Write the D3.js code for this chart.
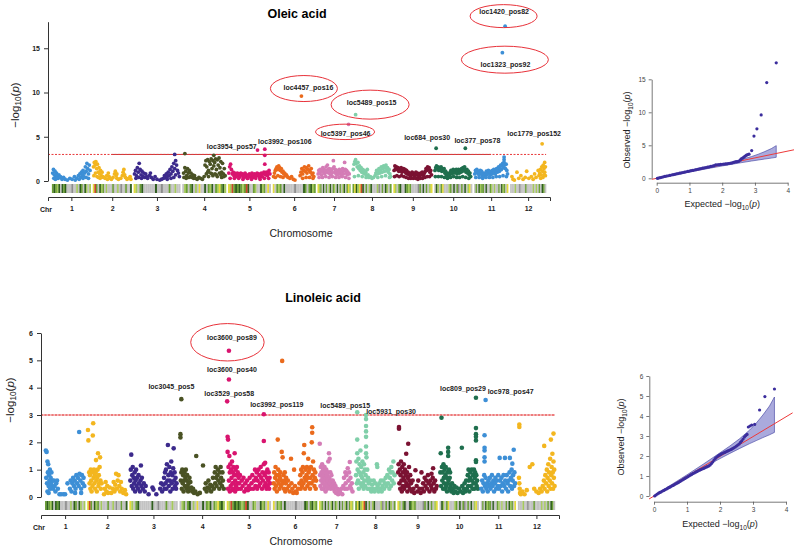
<!DOCTYPE html>
<html>
<head>
<meta charset="utf-8">
<script src="https://cdn.jsdelivr.net/npm/d3@7"></script>
<style>
body { margin: 0; background: #fff; }
svg { display: block; font-family: "Liberation Sans", Arial, sans-serif; }
</style>
</head>
<body>
<div id="chart"></div>
<script>
// chromosomes
var chrNames = ["1", "2", "3", "4", "5", "6", "7", "8", "9", "10", "11", "12"];
var chrLen = [40, 40, 48, 45, 44, 44, 34, 40, 40, 39, 35, 37];
var chrColors = ["#3d8fd6", "#f3b61f", "#3c2a8c", "#4a5224", "#d9146f", "#ea6a1c",
	"#d47cb6", "#80cfa9", "#7b1232", "#1f6f4e", "#3d8fd6", "#f3b61f"];

// marker density strip, one code per bin (0 grey .. 5 red)
var stripCodes = [
	"232130323000600103203101", "452031201000200106002003", "410230000003006000200100",
	"012023010400302130214231", "415232321253002100312040", "402120300000600003202312",
	"412030201302103020130241", "243145302013000160203102", "410230032120000620302014",
	"031024000120302602030140", "020312203002101002031204", "000100600020000101020320"
];
var stripColors = ["#c3c3c3", "#a5c95c", "#6b9e36", "#2f5e1e", "#e4da3d", "#c9472b", "#8c8c8c"];

// Oleic acid: [position in chromosome (%), -log10(p)]
var oleicPts = [
	[[2,0.9],[4,1.3],[6,0.7],[8,1.1],[10,0.5],[12,0.9],[14,0.6],[16,0.3],[5,0.3],[9,0.2],[13,0.3],[18,0.7],[20,0.4],[22,0.5],[26,0.2],[30,0.4],[34,0.2],[40,0.1],[46,0.3],[52,0.2],[58,0.5],[64,0.3],[68,0.6],[72,0.8],[74,0.4],[76,1.0],[78,0.7],[80,1.2],[82,0.5],[84,0.9],[86,1.6],[88,1.1],[90,2.0],[92,1.4],[94,0.8],[96,1.8],[98,1.2],[70,0.2],[80,0.3],[88,0.4],[94,0.3],[60,0.1]],
	[[2,1.6],[4,2.1],[6,1.8],[8,2.2],[10,1.4],[12,1.9],[14,1.0],[16,1.5],[18,0.8],[20,1.2],[22,0.6],[24,1.0],[26,0.5],[3,0.6],[7,0.9],[11,0.5],[15,0.4],[19,0.3],[28,0.4],[32,0.3],[36,0.6],[40,0.9],[42,0.5],[44,0.3],[48,0.2],[52,0.4],[56,0.8],[58,1.1],[60,0.6],[62,0.3],[66,0.2],[72,0.3],[76,0.6],[78,1.0],[80,1.3],[82,0.7],[84,0.4],[88,0.2],[92,0.3],[96,0.5],[98,0.2],[38,0.2],[62,0.8]],
	[[2,0.8],[4,1.2],[6,0.6],[8,1.5],[10,1.0],[12,2.0],[14,1.3],[16,0.7],[18,1.1],[20,0.5],[22,0.9],[24,0.4],[5,0.3],[11,0.4],[17,0.3],[26,0.8],[28,0.5],[30,0.3],[34,0.6],[36,0.9],[38,0.4],[42,0.2],[46,0.5],[50,0.2],[56,0.1],[60,0.2],[64,0.3],[66,0.6],[68,0.4],[70,0.8],[72,0.5],[74,1.0],[76,0.6],[78,1.3],[80,0.8],[82,1.6],[84,1.1],[86,2.0],[88,1.4],[88,3.0],[90,2.3],[90,0.7],[92,1.8],[94,1.2],[96,0.9],[98,0.5],[72,0.2],[80,0.3],[86,0.4]],
	[[3,0.9],[6,3.1],[6,1.5],[8,1.1],[10,0.6],[12,1.4],[14,0.9],[16,1.2],[18,0.5],[20,0.9],[22,0.4],[24,0.7],[26,0.3],[4,0.4],[9,0.3],[15,0.4],[28,0.6],[30,0.3],[34,0.2],[38,0.4],[42,0.3],[46,0.2],[50,0.5],[52,1.8],[54,2.3],[56,1.6],[58,2.4],[60,1.2],[62,2.2],[64,1.9],[66,2.5],[68,1.4],[70,2.3],[72,2.9],[72,1.7],[74,2.1],[76,2.5],[78,1.3],[80,2.4],[82,1.8],[84,2.6],[86,1.5],[88,2.2],[90,1.0],[92,2.0],[94,0.8],[96,1.4],[98,0.6],[55,0.8],[60,0.5],[65,0.9],[70,0.6],[75,0.8],[80,0.5],[85,0.9],[90,0.4],[95,0.5],[58,1.0],[68,0.8],[78,0.7],[88,0.7]],
	[[2,0.9],[4,1.6],[6,1.9],[8,1.3],[10,0.8],[12,1.0],[14,0.6],[16,0.9],[18,0.5],[20,0.8],[22,0.9],[24,0.6],[26,0.8],[28,0.5],[30,0.9],[32,0.7],[34,0.8],[36,0.4],[38,0.7],[40,0.9],[42,0.5],[44,0.7],[46,0.3],[48,0.6],[50,0.8],[52,0.5],[54,0.7],[56,0.9],[58,0.4],[60,0.6],[62,0.8],[64,0.5],[66,0.7],[68,0.9],[69,3.5],[70,0.6],[72,0.8],[74,0.4],[76,0.7],[78,0.9],[80,0.5],[82,0.8],[84,1.0],[86,3.6],[86,2.9],[86,1.9],[88,0.7],[90,1.0],[92,0.6],[94,0.9],[96,1.2],[98,0.8],[5,0.3],[15,0.3],[25,0.3],[35,0.2],[45,0.3],[55,0.2],[65,0.3],[75,0.2],[85,0.3],[95,0.3]],
	[[2,0.5],[4,0.9],[6,1.2],[8,1.4],[10,1.6],[12,1.3],[14,1.7],[16,1.5],[18,1.2],[20,1.4],[22,1.0],[24,1.1],[26,0.8],[28,0.9],[30,0.6],[32,0.7],[34,0.5],[36,0.4],[40,0.3],[44,0.5],[48,0.2],[52,0.1],[6,0.4],[12,0.6],[18,0.5],[24,0.4],[64,0.6],[66,1.0],[67,9.6],[68,1.4],[70,0.8],[72,1.2],[74,1.6],[76,1.1],[78,1.5],[80,0.9],[82,1.3],[84,1.7],[86,1.2],[88,1.0],[90,1.4],[92,0.7],[94,0.9],[96,0.5],[70,0.3],[78,0.4],[86,0.4],[94,0.3]],
	[[2,0.8],[4,1.2],[6,0.9],[8,1.3],[10,1.1],[12,0.7],[14,1.2],[16,1.5],[18,1.0],[20,1.3],[22,0.8],[24,1.2],[26,1.6],[28,1.0],[30,1.8],[32,1.3],[34,0.9],[36,1.4],[38,1.1],[40,0.7],[42,1.2],[44,0.9],[46,1.4],[48,2.3],[50,1.6],[52,1.0],[54,1.3],[56,0.8],[58,1.1],[60,0.7],[62,1.2],[64,0.9],[66,1.3],[68,0.8],[70,1.1],[72,0.6],[74,1.0],[76,1.4],[78,0.8],[80,1.2],[82,2.1],[84,1.3],[86,0.9],[88,1.2],[90,0.7],[92,1.0],[94,6.4],[96,0.8],[5,0.4],[15,0.4],[25,0.5],[35,0.4],[45,0.5],[55,0.4],[65,0.4],[75,0.5],[85,0.4],[95,0.3]],
	[[2,1.3],[4,1.9],[6,2.2],[8,7.5],[8,2.4],[10,2.0],[12,1.6],[14,2.1],[16,1.4],[18,1.7],[20,1.2],[22,1.5],[24,1.0],[26,1.3],[28,0.9],[30,1.2],[32,0.8],[34,1.0],[36,0.6],[38,1.3],[40,0.7],[42,0.4],[46,0.5],[50,0.3],[54,0.4],[58,0.6],[60,0.9],[62,1.2],[64,0.8],[66,1.1],[68,1.4],[70,0.9],[72,1.2],[74,1.6],[76,1.0],[78,1.4],[80,1.7],[82,1.1],[84,1.5],[86,1.8],[88,1.2],[90,1.5],[92,1.0],[94,1.3],[96,0.8],[98,0.5],[5,0.5],[15,0.6],[25,0.5],[35,0.4],[65,0.4],[75,0.5],[85,0.6],[95,0.4]],
	[[2,1.2],[4,1.7],[6,1.4],[8,1.6],[10,1.3],[12,1.5],[14,1.1],[16,1.4],[18,1.2],[20,1.5],[22,1.0],[24,1.3],[26,1.4],[28,1.1],[30,1.3],[32,0.9],[34,1.2],[36,0.8],[38,1.0],[40,0.7],[42,0.9],[44,0.6],[46,0.8],[48,1.0],[50,0.7],[52,0.9],[54,0.6],[56,0.8],[58,1.0],[60,0.7],[62,0.9],[64,0.5],[66,0.8],[68,0.6],[70,0.9],[72,0.7],[74,1.0],[76,0.8],[78,0.6],[80,0.9],[82,1.1],[84,1.4],[86,1.2],[88,1.6],[90,1.3],[92,1.5],[94,1.0],[96,1.2],[98,0.7],[3,0.5],[9,0.6],[15,0.5],[21,0.6],[27,0.5],[33,0.4],[39,0.3],[45,0.3],[51,0.3],[57,0.3],[63,0.2],[69,0.3],[75,0.3],[81,0.4],[87,0.5],[93,0.5]],
	[[2,1.2],[4,1.5],[5,3.7],[6,1.7],[8,1.4],[10,1.6],[12,1.2],[14,1.5],[16,1.3],[18,1.6],[20,1.1],[22,1.4],[24,1.2],[26,1.4],[28,0.9],[30,1.1],[32,0.7],[34,0.9],[36,0.5],[38,0.8],[40,0.6],[42,1.0],[44,1.2],[46,0.8],[48,1.1],[50,1.3],[52,0.9],[54,1.2],[56,1.0],[58,1.3],[60,0.8],[62,1.1],[64,1.3],[66,0.9],[68,1.2],[70,1.0],[72,1.4],[74,1.1],[76,1.5],[78,1.2],[80,1.6],[82,3.7],[82,1.3],[84,1.0],[86,1.3],[88,0.9],[90,1.1],[92,0.7],[94,0.9],[96,0.5],[3,0.5],[11,0.5],[19,0.5],[27,0.4],[35,0.3],[43,0.4],[51,0.5],[59,0.4],[67,0.4],[75,0.5],[83,0.4],[91,0.3]],
	[[2,0.8],[4,1.2],[6,1.0],[8,1.3],[10,0.9],[12,1.1],[14,0.7],[16,1.0],[18,1.2],[20,0.8],[22,1.1],[24,0.6],[26,0.9],[28,0.5],[30,0.8],[32,0.6],[34,0.9],[36,1.1],[38,0.7],[40,1.0],[42,1.2],[44,0.8],[46,1.1],[48,0.7],[50,1.0],[52,0.8],[54,1.2],[56,0.9],[58,1.3],[60,1.0],[62,0.8],[64,1.2],[66,1.4],[68,1.0],[70,1.3],[72,1.6],[74,1.1],[76,1.4],[78,1.8],[80,1.3],[82,1.7],[83,14.5],[84,2.0],[86,1.5],[88,2.1],[88,2.7],[88,2.4],[90,1.8],[91,17.5],[92,1.4],[94,1.9],[96,1.2],[98,0.8],[5,0.4],[15,0.4],[25,0.3],[35,0.4],[45,0.4],[55,0.4],[65,0.5],[75,0.5],[85,0.6],[95,0.5]],
	[[5,0.5],[8,0.2],[12,0.1],[19,1.0],[24,0.3],[30,0.6],[36,0.2],[42,0.4],[46,1.1],[52,0.3],[59,0.5],[64,0.2],[68,0.8],[72,0.4],[78,1.2],[80,0.6],[82,0.9],[84,1.3],[86,0.7],[88,1.6],[89,4.2],[90,1.1],[92,1.8],[94,1.4],[96,2.1],[96,1.0],[98,1.6],[98,0.6],[85,0.3],[91,0.4],[94,0.7]]
];

// Linoleic acid: [position in chromosome (%), -log10(p)]
var linoleicPts = [
	[[2,1.7],[4,1.65],[3,0.7],[5,0.5],[6,1.3],[7,0.9],[8,1.2],[9,0.4],[10,0.8],[11,0.6],[12,1.0],[13,0.3],[14,0.7],[15,0.5],[16,0.9],[17,0.4],[18,0.6],[20,0.3],[22,0.6],[24,0.4],[26,0.2],[28,0.5],[30,0.6],[32,0.3],[36,0.1],[40,0.1],[46,0.1],[50,0.1],[56,0.5],[62,0.3],[64,0.6],[66,0.2],[68,0.5],[70,0.7],[72,0.4],[74,0.6],[76,0.3],[78,0.8],[80,0.5],[82,0.7],[84,0.4],[85,2.38],[86,0.85],[88,0.6],[90,0.3],[92,0.8],[94,0.5],[96,0.7],[98,0.4],[6,0.2],[9,0.15],[75,0.15],[90,0.15],[12,0.35]],
	[[2,2.45],[3,2.07],[5,0.9],[6,0.5],[7,0.8],[8,0.3],[9,1.0],[10,0.6],[11,0.2],[12,0.9],[13,0.4],[14,2.25],[15,2.7],[16,0.7],[17,1.0],[18,0.5],[19,0.8],[20,0.3],[21,0.9],[22,1.35],[23,0.6],[24,0.2],[25,0.7],[26,1.0],[27,1.6],[28,0.4],[29,0.8],[30,0.5],[31,1.1],[32,1.45],[33,0.6],[34,0.3],[36,0.5],[42,0.1],[44,0.3],[46,0.55],[48,0.2],[50,0.4],[52,0.15],[56,0.35],[60,0.15],[64,0.3],[66,0.55],[68,0.2],[70,0.45],[72,0.85],[74,0.3],[76,0.6],[78,0.8],[80,0.4],[82,0.2],[84,0.55],[86,0.3],[90,0.15],[94,0.25],[97,0.1]],
	[[2,0.6],[3,1.0],[4,1.55],[5,0.4],[6,0.8],[7,1.1],[8,0.3],[9,0.7],[10,0.5],[11,0.9],[12,0.2],[13,0.6],[14,1.0],[15,0.4],[16,0.7],[18,0.3],[19,0.8],[20,0.5],[22,0.2],[23,0.6],[24,1.15],[25,0.4],[26,0.7],[28,0.3],[30,0.5],[32,0.2],[34,0.4],[40,0.1],[48,0.35],[50,0.27],[56,0.1],[64,0.3],[66,0.5],[68,0.2],[70,0.45],[72,0.7],[73,0.3],[74,0.9],[75,0.5],[76,1.0],[77,0.3],[78,1.2],[79,0.6],[80,1.9],[81,0.8],[82,0.4],[83,1.1],[84,0.6],[85,0.2],[86,0.9],[87,1.3],[88,0.5],[89,0.8],[90,0.3],[91,1.05],[92,1.78],[93,0.6],[94,0.9],[95,0.4],[96,0.7],[97,0.3],[98,0.5]],
	[[2,2.3],[2,2.18],[4,3.58],[3,0.6],[4,0.9],[5,0.3],[6,1.0],[7,0.5],[8,0.8],[9,0.2],[10,0.6],[11,0.9],[12,0.4],[13,0.7],[14,1.0],[15,0.3],[16,0.6],[17,0.8],[18,0.4],[19,0.2],[20,0.5],[22,0.7],[23,0.3],[24,0.55],[26,0.35],[28,0.2],[30,0.3],[32,0.15],[35,0.2],[37,1.5],[40,0.1],[45,0.15],[52,1.15],[56,0.3],[58,0.5],[60,0.2],[62,0.35],[64,0.6],[66,0.3],[68,0.45],[70,0.2],[72,0.4],[74,0.7],[76,0.3],[78,0.9],[79,0.5],[80,1.1],[81,0.7],[82,0.4],[84,0.8],[85,1.0],[86,0.6],[88,0.3],[89,0.9],[90,0.5],[91,1.1],[92,0.7],[94,0.4],[95,0.9],[96,0.6],[98,0.3]],
	[[1,3.5],[5,5.35],[5,4.3],[2,2.2],[3,2.1],[2,1.65],[4,1.1],[5,0.6],[6,1.5],[7,0.9],[8,1.2],[9,0.4],[10,1.0],[11,0.7],[12,1.3],[13,0.5],[14,0.9],[15,1.1],[16,0.3],[17,0.8],[18,1.6],[19,0.6],[20,1.0],[21,0.4],[22,0.8],[23,1.1],[24,0.5],[25,0.9],[26,0.3],[27,0.7],[3,0.3],[7,0.2],[11,0.25],[15,0.5],[19,0.2],[23,0.3],[28,0.5],[30,0.8],[32,0.3],[34,0.6],[36,0.4],[38,0.7],[40,0.2],[42,0.5],[44,0.3],[46,0.6],[48,0.25],[50,0.4],[52,0.7],[54,0.3],[56,0.5],[58,0.8],[60,0.3],[62,0.6],[64,1.0],[65,0.4],[66,0.7],[68,0.9],[69,0.3],[70,0.6],[72,1.0],[73,0.4],[74,0.8],[76,0.5],[77,1.1],[78,0.7],[80,0.3],[81,0.9],[82,0.6],[84,3.03],[84,2.05],[84,1.2],[85,0.4],[86,0.8],[87,1.25],[88,0.5],[89,0.9],[90,0.3],[91,0.7],[92,1.0],[93,0.4],[94,0.6],[95,0.9],[96,0.3],[97,0.7],[98,0.5]],
	[[2,0.5],[3,0.9],[4,0.3],[5,0.7],[6,1.1],[7,0.4],[8,0.8],[9,0.2],[10,0.6],[11,2.1],[12,1.0],[13,0.5],[14,0.8],[15,0.3],[16,0.7],[17,0.9],[18,0.4],[19,0.6],[20,1.65],[21,4.98],[22,1.45],[23,0.5],[24,0.8],[25,0.3],[26,0.6],[27,0.9],[28,0.2],[29,0.5],[30,0.7],[32,0.3],[34,0.6],[36,0.4],[38,0.2],[41,1.4],[42,0.5],[44,0.3],[46,0.15],[48,1.0],[50,0.4],[52,0.2],[54,0.15],[57,0.3],[60,0.5],[62,0.8],[63,0.3],[64,1.0],[65,0.6],[66,0.4],[67,0.9],[68,1.1],[69,0.5],[70,1.6],[71,1.9],[72,0.7],[73,0.3],[74,1.0],[75,0.6],[76,0.8],[77,1.1],[78,0.4],[79,0.7],[80,1.4],[81,0.9],[82,0.5],[83,1.0],[84,0.3],[85,0.7],[86,1.1],[87,0.5],[88,2.0],[89,2.55],[89,2.35],[90,0.8],[91,1.3],[92,0.6],[93,1.0],[94,0.4],[95,0.7],[96,0.9],[97,0.3],[98,0.6]],
	[[2,1.95],[3,0.8],[4,0.4],[5,1.1],[6,0.6],[7,0.9],[8,0.3],[9,1.2],[10,0.7],[11,0.5],[12,1.0],[13,0.3],[14,0.8],[15,0.6],[16,1.1],[17,0.4],[18,0.9],[19,0.2],[20,0.7],[21,1.0],[22,0.5],[23,0.8],[24,0.3],[25,0.6],[26,0.9],[27,1.3],[28,0.4],[29,1.6],[30,0.7],[31,1.4],[32,0.5],[33,0.9],[34,0.3],[35,0.6],[36,0.8],[38,0.4],[40,0.6],[42,0.3],[44,0.5],[46,0.2],[48,0.4],[50,0.15],[53,0.3],[56,0.1],[59,0.25],[62,0.15],[65,0.3],[68,0.1],[71,0.4],[73,0.7],[75,0.3],[77,0.9],[78,0.5],[80,0.8],[82,0.3],[84,1.05],[86,0.6],[88,0.9],[90,1.28],[91,0.4],[92,0.7],[94,0.3],[96,0.5],[98,0.2]],
	[[2,0.8],[3,1.3],[4,0.5],[5,3.1],[5,2.1],[5,1.6],[6,1.0],[7,0.6],[8,1.4],[9,0.3],[10,0.9],[11,1.2],[12,0.5],[13,1.7],[14,0.8],[15,1.1],[16,0.4],[17,0.7],[18,1.3],[19,0.5],[20,0.9],[21,0.3],[22,1.2],[23,0.6],[24,1.0],[25,0.4],[26,0.8],[27,3.0],[27,2.85],[27,2.6],[27,2.4],[27,2.2],[27,1.85],[27,1.6],[28,1.45],[29,0.6],[30,1.0],[31,0.3],[32,0.7],[34,0.5],[36,0.3],[38,0.6],[40,0.2],[42,0.45],[44,0.3],[46,0.6],[48,0.2],[50,0.5],[52,0.3],[54,1.2],[55,1.1],[56,0.4],[58,0.2],[60,0.5],[62,0.3],[64,0.6],[66,0.2],[68,0.4],[70,0.6],[72,0.3],[74,0.5],[76,0.7],[78,0.4],[80,0.8],[82,0.5],[84,1.0],[85,0.3],[86,0.7],[88,0.9],[89,0.4],[90,1.1],[92,0.6],[93,0.9],[95,1.3],[96,0.5],[98,0.8]],
	[[2,0.9],[3,1.2],[4,2.56],[4,2.5],[5,0.5],[6,1.0],[7,0.3],[8,0.8],[9,1.3],[10,0.6],[11,0.2],[12,1.1],[13,0.4],[14,0.9],[15,0.7],[16,1.2],[17,0.3],[18,0.6],[19,1.0],[20,0.4],[21,0.8],[22,1.58],[23,0.5],[24,0.9],[25,0.2],[26,0.7],[27,1.95],[28,0.4],[29,1.1],[30,0.6],[31,0.3],[32,0.8],[34,0.5],[36,0.2],[38,0.6],[40,0.3],[42,0.15],[45,0.98],[48,0.4],[50,0.2],[52,0.6],[55,0.3],[58,0.15],[60,0.9],[62,0.3],[64,0.5],[66,0.2],[68,0.7],[70,0.4],[72,0.6],[74,0.3],[76,0.8],[78,0.5],[80,0.2],[82,0.6],[84,0.4],[85,0.85],[86,0.3],[88,0.7],[89,1.05],[90,0.5],[92,0.2],[94,0.6],[96,0.3],[98,0.4]],
	[[2,0.9],[3,1.6],[4,0.4],[5,2.9],[6,1.1],[7,0.6],[8,0.9],[9,0.3],[10,1.2],[11,0.7],[12,0.5],[13,1.0],[14,0.3],[15,0.8],[16,1.1],[17,0.4],[18,0.7],[19,0.2],[20,0.9],[21,0.5],[22,1.8],[22,1.65],[22,1.5],[23,0.6],[24,1.0],[25,0.3],[26,0.7],[27,0.9],[28,0.4],[30,0.2],[32,0.5],[34,0.3],[36,0.15],[38,0.4],[40,0.2],[43,0.35],[46,0.15],[50,0.3],[54,0.2],[57,1.8],[58,0.4],[60,0.15],[62,0.3],[64,0.5],[66,0.2],[68,0.6],[70,0.3],[72,0.8],[73,0.4],[74,1.0],[75,0.6],[76,0.2],[78,0.7],[79,0.9],[80,0.4],[82,1.0],[83,0.6],[84,0.3],[86,0.8],[87,0.5],[88,1.0],[89,0.3],[90,0.7],[91,0.9],[92,0.5],[93,3.63],[93,2.52],[93,2.3],[93,2.2],[93,2.07],[93,1.34],[93,1.28],[94,0.8],[95,0.4],[96,0.6],[98,0.3]],
	[[2,0.3],[4,0.6],[6,0.2],[8,0.5],[10,0.8],[11,2.26],[11,1.8],[11,1.7],[11,1.45],[11,1.3],[12,0.4],[14,3.55],[14,0.7],[16,0.3],[18,0.5],[20,0.2],[22,0.6],[24,0.4],[26,0.7],[28,0.3],[30,0.5],[32,0.8],[34,0.4],[36,0.6],[38,0.2],[40,0.5],[42,0.7],[44,0.3],[46,0.6],[48,0.4],[50,0.8],[52,0.3],[54,1.43],[55,0.6],[57,0.4],[59,0.7],[61,0.2],[63,0.5],[65,0.8],[67,0.4],[69,1.43],[70,0.6],[72,0.3],[74,0.8],[76,0.5],[78,0.2],[80,0.6],[82,0.9],[83,1.43],[84,0.4],[86,0.7],[88,1.0],[89,0.3],[90,1.22],[91,0.6],[92,0.8],[94,1.73],[95,0.4],[96,0.9],[98,0.5]],
	[[4,2.65],[4,2.56],[3,0.7],[4,0.5],[5,0.3],[6,0.15],[8,0.1],[12,0.2],[18,0.1],[24,0.25],[32,1.1],[39,1.2],[44,0.3],[50,0.2],[56,0.15],[60,0.3],[64,0.2],[67,0.4],[70,0.6],[71,1.87],[72,0.3],[74,0.8],[76,0.5],[78,1.0],[79,0.2],[80,0.7],[82,1.2],[83,0.4],[84,0.9],[86,0.6],[87,1.4],[88,0.3],[89,2.1],[90,0.8],[91,1.1],[92,0.5],[93,1.58],[94,0.9],[95,0.3],[96,2.32],[96,1.3],[97,0.7],[98,1.0],[99,0.4]]
];

// labelled SNPs: [name, chromosome, position (%), -log10(p)]
var oleicHits = [
	["loc1420_pos82", 11, 91, 17.5], ["loc1323_pos92", 11, 83, 14.5], ["loc4457_pos16", 6, 67, 9.6],
	["loc5489_pos15", 8, 8, 7.5], ["loc5397_pos46", 7, 94, 6.4], ["loc684_pos30", 10, 5, 3.7],
	["loc377_pos78", 10, 82, 3.7], ["loc1779_pos152", 12, 89, 4.2], ["loc3954_pos57", 4, 72, 2.9],
	["loc3992_pos106", 5, 86, 3.6]
];
var linoleicHits = [
	["loc3600_pos89", 5, 5, 5.35], ["loc3600_pos40", 5, 5, 4.3], ["loc3529_pos58", 5, 1, 3.5],
	["loc3045_pos5", 4, 4, 3.58], ["loc3992_pos119", 5, 84, 3.03], ["loc5489_pos15", 8, 5, 3.1],
	["loc5931_pos30", 8, 27, 3.0], ["loc809_pos29", 10, 93, 3.63], ["loc978_pos47", 11, 14, 3.55]
];
var threshold = 3;

// QQ plots: [expected, observed]
var qqOleic = [[0.02,0.0],[0.05,0.04],[0.1,0.1],[0.15,0.15],[0.2,0.22],[0.25,0.28],[0.3,0.33],[0.35,0.39],[0.4,0.44],[0.45,0.5],[0.5,0.55],[0.55,0.6],[0.6,0.66],[0.65,0.71],[0.7,0.77],[0.75,0.82],[0.8,0.88],[0.85,0.93],[0.9,0.99],[0.95,1.04],[1.0,1.1],[1.05,1.15],[1.1,1.2],[1.15,1.26],[1.2,1.31],[1.25,1.37],[1.3,1.42],[1.35,1.48],[1.4,1.53],[1.45,1.58],[1.5,1.63],[1.55,1.69],[1.6,1.74],[1.65,1.8],[1.7,1.85],[1.75,1.92],[1.8,2.02],[1.85,2.05],[1.9,2.08],[1.95,2.1],[2.0,2.13],[2.05,2.16],[2.1,2.18],[2.15,2.2],[2.2,2.24],[2.25,2.28],[2.3,2.32],[2.35,2.4],[2.4,2.48],[2.45,2.52],[2.5,2.56],[2.55,2.75],[2.58,2.95],[2.62,3.05],[2.66,3.2],[2.7,3.35],[2.74,3.5],[2.78,3.6],[2.82,3.65],[2.9,4.2],[2.97,6.4],[3.06,7.5],[3.19,9.6],[3.36,14.5],[3.65,17.5]];
var qqLinoleic = [[0.02,0.0],[0.06,0.05],[0.1,0.1],[0.14,0.14],[0.18,0.18],[0.22,0.21],[0.26,0.25],[0.3,0.28],[0.34,0.32],[0.38,0.35],[0.42,0.39],[0.46,0.43],[0.5,0.46],[0.54,0.5],[0.58,0.53],[0.62,0.57],[0.66,0.61],[0.7,0.64],[0.74,0.68],[0.78,0.72],[0.82,0.76],[0.86,0.8],[0.9,0.84],[0.94,0.88],[0.98,0.92],[1.02,0.96],[1.06,1.0],[1.1,1.04],[1.14,1.08],[1.18,1.12],[1.22,1.15],[1.26,1.19],[1.3,1.22],[1.34,1.26],[1.38,1.29],[1.42,1.32],[1.46,1.35],[1.5,1.38],[1.54,1.41],[1.58,1.44],[1.62,1.47],[1.66,1.5],[1.7,1.55],[1.74,1.62],[1.78,1.7],[1.82,1.8],[1.86,1.88],[1.9,1.95],[1.94,2.0],[1.98,2.04],[2.02,2.08],[2.06,2.12],[2.1,2.15],[2.14,2.18],[2.18,2.21],[2.22,2.24],[2.26,2.27],[2.3,2.3],[2.34,2.33],[2.38,2.37],[2.42,2.41],[2.46,2.45],[2.5,2.5],[2.54,2.55],[2.58,2.6],[2.62,2.68],[2.66,2.76],[2.7,2.85],[2.74,2.95],[2.78,3.02],[2.82,3.08],[2.86,3.45],[2.91,3.5],[2.96,3.55],[3.05,3.58],[3.2,4.3],[3.36,4.97],[3.65,5.35]];
var bandX = [0, 0.5, 1, 1.5, 2, 2.3, 2.6, 2.9, 3.1, 3.3, 3.5, 3.65];
var bandHi = [0.02, 0.54, 1.06, 1.6, 2.16, 2.5, 2.87, 3.3, 3.65, 4.05, 4.5, 4.95];
var bandLo = [0, 0.47, 0.95, 1.42, 1.87, 2.13, 2.38, 2.62, 2.77, 2.92, 3.06, 3.18];

// label offsets from their point (px) and circled labels
var oleicLabelOffsets = [[-1,-15],[3,12],[7,-9],[16,-12],[-3,9],[-9,-11],[12,-8],[-8,-10],[18,-9],[20,-8]];
var linoleicLabelOffsets = [[3,-13],[3,-10],[2,-8],[-10,-13],[13,-10],[-12,-7],[25,-4],[-13,-9],[25,-8]];
// [hit index, dx, dy, rx, ry]
var oleicRings = [[0,-1.5,-10,33.5,11.5],[1,2.5,7,43.5,13.5],[2,2.5,-7.5,33.5,13],[3,14.5,-10,39,14.5],[4,-3.5,7.5,29.5,7.7]];
var linoleicRings = [[0,-1.5,-8.5,36.7,18.7]];

var svg = d3.select("#chart").append("svg").attr("width", 794).attr("height", 548);

var chrStart = [];
var acc = 0;
for (var i = 0; i < chrLen.length; i++) {
	chrStart.push(acc);
	acc += chrLen[i] + 2;
}
var genomeEnd = acc - 2;
var chrCenter = chrLen.map(function (l, i) { return chrStart[i] + l / 2; });

function subLabel(sel, prefix, fs) {
	// writes  prefix -log10(p)  with a subscript and italic p
	sel.append("tspan").text(prefix + "\u2212log");
	sel.append("tspan").attr("dy", fs * 0.3).attr("font-size", fs * 0.72).text("10");
	sel.append("tspan").attr("dy", -fs * 0.3).text("(");
	sel.append("tspan").attr("font-style", "italic").text("p");
	sel.append("tspan").text(")");
}

function drawManhattan(o) {
	var g = svg.append("g");
	var x = d3.scaleLinear().domain([-4, genomeEnd + 4]).range(o.xRange);
	var y = d3.scaleLinear().domain(o.yDomain).range(o.yRange);
	var gx = function (c, p) { return x(chrStart[c - 1] + p / 100 * chrLen[c - 1]); };

	// title
	g.append("text").attr("x", o.titleX).attr("y", o.titleY).attr("text-anchor", "middle")
		.attr("dominant-baseline", "central").attr("font-size", 12.5).attr("font-weight", "bold")
		.text(o.title);

	// marker density strip
	stripCodes.forEach(function (codes, c) {
		var n = codes.length;
		for (var k = 0; k < n; k++) {
			var x0 = x(chrStart[c] + k / n * chrLen[c]);
			var x1 = x(chrStart[c] + (k + 1) / n * chrLen[c]);
			g.append("rect").attr("x", x0).attr("y", o.stripY).attr("width", x1 - x0 + 0.2)
				.attr("height", o.stripH).attr("fill", stripColors[+codes[k]]);
		}
	});

	// threshold
	g.append("line").attr("x1", o.xRange[0]).attr("x2", x(genomeEnd))
		.attr("y1", y(threshold)).attr("y2", y(threshold))
		.attr("stroke", o.solidAll ? "#e98080" : "none").attr("stroke-width", 1);
	g.append("line").attr("x1", x(chrCenter[1])).attr("x2", x(chrCenter[10]))
		.attr("y1", y(threshold)).attr("y2", y(threshold))
		.attr("stroke", o.solidAll ? "none" : "#b83a3a").attr("stroke-width", 1);
	g.append("line").attr("x1", o.xRange[0]).attr("x2", x(genomeEnd))
		.attr("y1", y(threshold)).attr("y2", y(threshold))
		.attr("stroke", "#e8383a").attr("stroke-width", 1).attr("stroke-dasharray", "2,1.5");

	// points
	o.pts.forEach(function (list, c) {
		g.append("g").selectAll("circle").data(list).enter().append("circle")
			.attr("cx", function (d) { return gx(c + 1, d[0]); })
			.attr("cy", function (d) { return y(d[1]); })
			.attr("r", o.r)
			.attr("fill", chrColors[c]);
	});

	// y axis
	var ya = g.append("g").attr("transform", "translate(" + o.yAxisX + ",0)")
		.call(d3.axisLeft(y).tickValues(o.yTicks).tickFormat(d3.format("d"))
			.tickSize(4).tickSizeOuter(0).tickPadding(4));
	ya.select(".domain").attr("stroke", "#333");
	ya.selectAll(".tick line").attr("stroke", "#333");
	ya.selectAll(".tick text").attr("font-size", 7).attr("font-weight", "bold").attr("fill", "#222")
		.attr("font-family", "Liberation Sans, Arial, sans-serif");

	// x axis
	var xa = g.append("g").attr("transform", "translate(0," + o.xAxisY + ")")
		.call(d3.axisBottom(x).tickValues(chrCenter).tickFormat(function (d, i) { return chrNames[i]; })
			.tickSize(4).tickSizeOuter(4).tickPadding(5));
	xa.select(".domain").attr("stroke", "#333");
	xa.selectAll(".tick line").attr("stroke", "#333");
	xa.selectAll(".tick text").attr("font-size", 7).attr("font-weight", "bold").attr("fill", "#222")
		.attr("font-family", "Liberation Sans, Arial, sans-serif");
	g.append("text").attr("x", o.chrX).attr("y", o.xAxisY + 12).attr("text-anchor", "middle")
		.attr("dominant-baseline", "central").attr("font-size", 7).attr("font-weight", "bold")
		.attr("fill", "#222").text("Chr");

	// axis titles
	g.append("text").attr("x", 301).attr("y", o.xTitleY).attr("text-anchor", "middle")
		.attr("dominant-baseline", "central").attr("font-size", 10.5).attr("fill", "#222").text("Chromosome");
	var yt = g.append("text").attr("transform", "translate(" + o.yTitleX + "," + o.yTitleY + ") rotate(-90)")
		.attr("text-anchor", "middle").attr("dominant-baseline", "central")
		.attr("font-size", 11.5).attr("fill", "#222");
	subLabel(yt, "", 11.5);

	// hit labels
	o.hits.forEach(function (h, i) {
		var px = gx(h[1], h[2]), py = y(h[3]);
		g.append("text").attr("x", px + o.offsets[i][0]).attr("y", py + o.offsets[i][1])
			.attr("text-anchor", "middle").attr("dominant-baseline", "central")
			.attr("font-size", 7).attr("font-weight", "bold").attr("fill", "#222").text(h[0]);
	});
	o.rings.forEach(function (r) {
		var h = o.hits[r[0]];
		g.append("ellipse").attr("cx", gx(h[1], h[2]) + r[1]).attr("cy", y(h[3]) + r[2])
			.attr("rx", r[3]).attr("ry", r[4]).attr("fill", "none")
			.attr("stroke", "#e8323a").attr("stroke-width", 1);
	});
}

function drawQQ(o) {
	var g = svg.append("g");
	var x = d3.scaleLinear().domain([0, 4]).range(o.xRange);
	var y = d3.scaleLinear().domain([0, o.yMax]).range(o.yRange);

	var area = d3.area()
		.x(function (d, i) { return x(bandX[i]); })
		.y0(function (d, i) { return y(bandLo[i]); })
		.y1(function (d, i) { return y(bandHi[i]); });
	g.append("path").datum(bandX).attr("d", area)
		.attr("fill", "#8d8dd2").attr("fill-opacity", 0.75)
		.attr("stroke", "#3b3b9e").attr("stroke-width", 0.6);

	g.append("line").attr("x1", x(-0.15)).attr("y1", y(-0.15 * o.lineSlope))
		.attr("x2", x(4.2)).attr("y2", y(4.2 * o.lineSlope))
		.attr("stroke", "#ee3a3a").attr("stroke-width", 1);

	g.selectAll("circle.qq").data(o.pts).enter().append("circle")
		.attr("cx", function (d) { return x(d[0]); })
		.attr("cy", function (d) { return y(d[1]); })
		.attr("r", 1.6).attr("fill", "#3b2d9d");

	var xa = g.append("g").attr("transform", "translate(0," + o.xAxisY + ")")
		.call(d3.axisBottom(x).tickValues([0, 1, 2, 3, 4]).tickFormat(d3.format("d"))
			.tickSize(3).tickSizeOuter(0).tickPadding(3));
	var ya = g.append("g").attr("transform", "translate(" + o.yAxisX + ",0)")
		.call(d3.axisLeft(y).tickValues(o.yTicks).tickFormat(d3.format("d"))
			.tickSize(3).tickSizeOuter(0).tickPadding(3));
	[xa, ya].forEach(function (a) {
		a.select(".domain").attr("stroke", "#555").attr("stroke-width", 0.8);
		a.selectAll(".tick line").attr("stroke", "#555").attr("stroke-width", 0.8);
		a.selectAll(".tick text").attr("font-size", 6.5).attr("fill", "#444")
			.attr("font-family", "Liberation Sans, Arial, sans-serif");
	});

	var xt = g.append("text").attr("x", x(2)).attr("y", o.xTitleY).attr("text-anchor", "middle")
		.attr("dominant-baseline", "central").attr("font-size", 9).attr("fill", "#222");
	subLabel(xt, "Expected  ", 9);
	var yt = g.append("text").attr("transform", "translate(" + o.yTitleX + "," + o.yTitleY + ") rotate(-90)")
		.attr("text-anchor", "middle").attr("dominant-baseline", "central")
		.attr("font-size", 9).attr("fill", "#222");
	subLabel(yt, "Observed  ", 9);
}

drawManhattan({
	title: "Oleic acid", titleX: 297, titleY: 14,
	pts: oleicPts, hits: oleicHits, offsets: oleicLabelOffsets, rings: oleicRings,
	xRange: [48, 550], yDomain: [0, 18], yRange: [181, 21.7], yTicks: [0, 5, 10, 15],
	r: 1.9, yAxisX: 48, xAxisY: 197, stripY: 184, stripH: 9,
	chrX: 46, xTitleY: 233, yTitleX: 15, yTitleY: 105, solidAll: false
});

drawManhattan({
	title: "Linoleic acid", titleX: 323, titleY: 298,
	pts: linoleicPts, hits: linoleicHits, offsets: linoleicLabelOffsets, rings: linoleicRings,
	xRange: [41, 559], yDomain: [0, 6], yRange: [497, 333], yTicks: [0, 1, 2, 3, 4, 5, 6],
	r: 2.3, yAxisX: 41, xAxisY: 515, stripY: 501, stripH: 9,
	chrX: 39, xTitleY: 541, yTitleX: 10, yTitleY: 400, solidAll: true
});

drawQQ({
	pts: qqOleic, xRange: [656.7, 787.7], yMax: 15, yRange: [178.3, 79.3], yTicks: [0, 5, 10, 15],
	xAxisY: 182.7, yAxisX: 651.7, xTitleY: 204, yTitleX: 627, yTitleY: 130, lineSlope: 1.03
});

drawQQ({
	pts: qqLinoleic, xRange: [654, 786], yMax: 6, yRange: [496, 376], yTicks: [0, 1, 2, 3, 4, 5, 6],
	xAxisY: 501.7, yAxisX: 649.3, xTitleY: 524, yTitleX: 621, yTitleY: 437, lineSlope: 0.99
});
</script>
</body>
</html>
